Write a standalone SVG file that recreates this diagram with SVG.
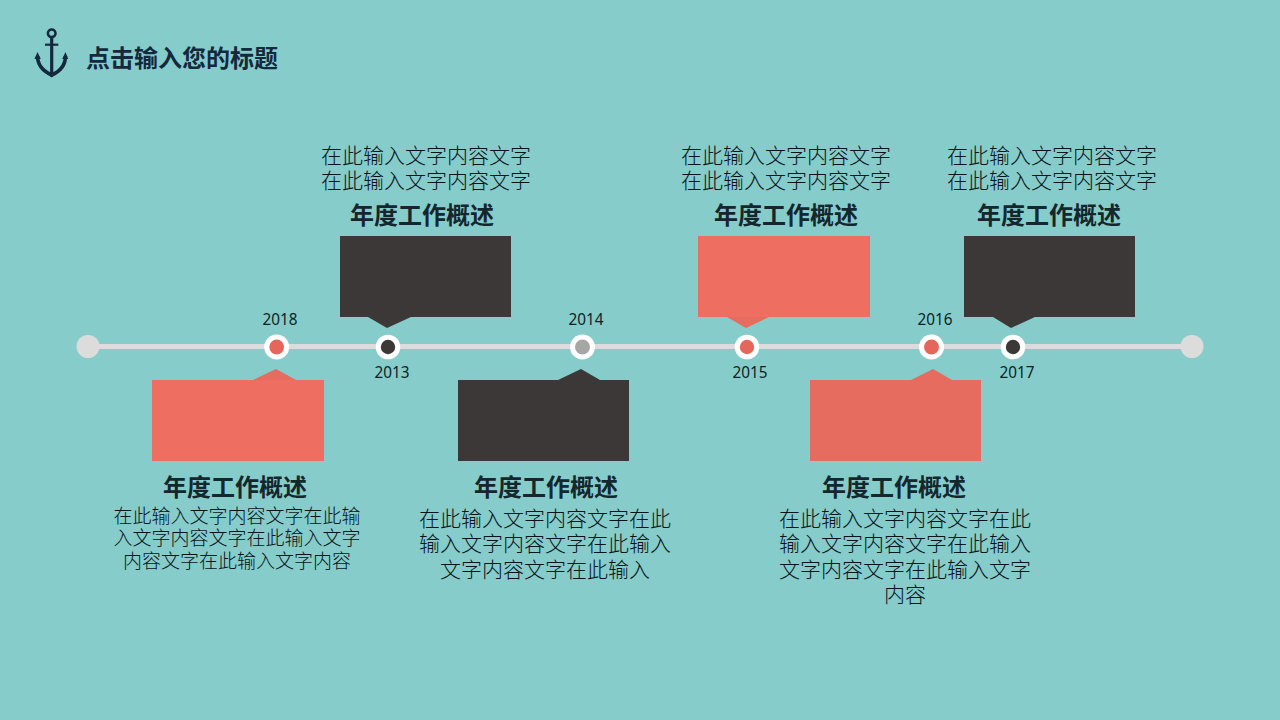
<svg xmlns="http://www.w3.org/2000/svg" width="1280" height="720" viewBox="0 0 1280 720">
<style>
text{font-family:"Noto Sans CJK SC","Noto Sans",sans-serif}
.t{font-size:21px;font-weight:300;fill:#061418;text-anchor:middle}
.s{font-size:19px}
.h{font-size:24px;font-weight:700;fill:#14272c;text-anchor:middle}
.y{font-size:16px;fill:#0c1f24;text-anchor:middle;font-family:"Noto Sans",sans-serif}
.ring{fill:#fff}
.dark{fill:#3d3838}
.red{fill:#ee6f62}
.red2{fill:#e56c5e}
.tipr{fill:#e56c5e}
</style>
<rect width="1280" height="720" fill="#86cccb"/>
<g id="title">
<g fill="none" stroke="#14293d" stroke-width="3.200">
<circle cx="51.700" cy="33.300" r="3.800" stroke-width="2.600"/>
<path d="M51.700 37V75"/>
<path d="M45 44.700H58.300" stroke-width="2.200"/>
<path d="M37.500 56C37.500 67 45 72 51.700 75C58.500 72 65.500 67 65.500 56" stroke-width="3.600"/>
</g>
<path d="M34.500 59L37.500 52L40.800 59ZM62.200 59L65.500 52L68.200 59ZM46 73H57L51.700 77.500Z" fill="#14293d"/>
<text x="86" y="67" font-size="24" font-weight="700" fill="#14293d">点击输入您的标题</text>
</g>
<g id="connectors">
<path d="M88 346.500H1192" stroke="#dcdcdc" stroke-width="5"/>
</g>
<g id="end-left"><circle cx="88" cy="346.500" r="11.500" fill="#dcdcdc"/></g>
<g id="end-right"><circle cx="1192" cy="346.500" r="11.500" fill="#dcdcdc"/></g>

<g id="node-2018">
<circle class="ring" cx="276.700" cy="347" r="12.500"/><circle cx="276.700" cy="347" r="7.400" fill="#e5675c"/>
<text class="y" x="280" y="324.500" textLength="35" lengthAdjust="spacingAndGlyphs">2018</text>
<path class="tipr" d="M253 380L276 369L296 380Z"/>
<rect class="red" x="152" y="380" width="172" height="81"/>
<text class="h" x="235" y="496">年度工作概述</text>
<text class="t s"><tspan x="237" y="523">在此输入文字内容文字在此输</tspan><tspan x="237" y="545">入文字内容文字在此输入文字</tspan><tspan x="237" y="568">内容文字在此输入文字内容</tspan></text>
</g>

<g id="node-2013">
<circle class="ring" cx="388" cy="347" r="12.300"/><circle cx="388" cy="347" r="7.200" fill="#3d3838"/>
<text class="y" x="392" y="377.500" textLength="35" lengthAdjust="spacingAndGlyphs">2013</text>
<rect class="dark" x="340" y="236" width="171" height="81"/>
<path class="dark" d="M368 317L387 328L411 317Z"/>
<text class="h" x="422" y="224">年度工作概述</text>
<text class="t"><tspan x="426" y="163">在此输入文字内容文字</tspan><tspan x="426" y="188">在此输入文字内容文字</tspan></text>
</g>

<g id="node-2014">
<circle class="ring" cx="582.500" cy="347" r="12.500"/><circle cx="582.500" cy="347" r="7.500" fill="#a6a6a6"/>
<text class="y" x="586" y="324.500" textLength="35" lengthAdjust="spacingAndGlyphs">2014</text>
<path class="dark" d="M558 380L581 369L600 380Z"/>
<rect class="dark" x="458" y="380" width="171" height="81"/>
<text class="h" x="546" y="496">年度工作概述</text>
<text class="t"><tspan x="545" y="526">在此输入文字内容文字在此</tspan><tspan x="545" y="551">输入文字内容文字在此输入</tspan><tspan x="545" y="577">文字内容文字在此输入</tspan></text>
</g>

<g id="node-2015">
<circle class="ring" cx="747" cy="347" r="12.300"/><circle cx="747" cy="347" r="7.200" fill="#e5675c"/>
<text class="y" x="750" y="377.500" textLength="35" lengthAdjust="spacingAndGlyphs">2015</text>
<rect class="red" x="698" y="236" width="172" height="81"/>
<path class="tipr" d="M727 317L746 328L769 317Z"/>
<text class="h" x="786" y="224">年度工作概述</text>
<text class="t"><tspan x="786" y="163">在此输入文字内容文字</tspan><tspan x="786" y="188">在此输入文字内容文字</tspan></text>
</g>

<g id="node-2016">
<circle class="ring" cx="931.500" cy="347" r="12.500"/><circle cx="931.500" cy="347" r="7.500" fill="#e5675c"/>
<text class="y" x="935" y="324.500" textLength="35" lengthAdjust="spacingAndGlyphs">2016</text>
<path class="red2" d="M911 380L933 369L952 380Z"/>
<rect class="red2" x="810" y="380" width="171" height="81"/>
<text class="h" x="894" y="496">年度工作概述</text>
<text class="t"><tspan x="905" y="526">在此输入文字内容文字在此</tspan><tspan x="905" y="551">输入文字内容文字在此输入</tspan><tspan x="905" y="577">文字内容文字在此输入文字</tspan><tspan x="905" y="602">内容</tspan></text>
</g>

<g id="node-2017">
<circle class="ring" cx="1013" cy="347" r="12.300"/><circle cx="1013" cy="347" r="7.200" fill="#3d3838"/>
<text class="y" x="1017" y="377.500" textLength="35" lengthAdjust="spacingAndGlyphs">2017</text>
<rect class="dark" x="964" y="236" width="171" height="81"/>
<path class="dark" d="M993 317L1011 328L1035 317Z"/>
<text class="h" x="1049" y="224">年度工作概述</text>
<text class="t"><tspan x="1052" y="163">在此输入文字内容文字</tspan><tspan x="1052" y="188">在此输入文字内容文字</tspan></text>
</g>
</svg>
